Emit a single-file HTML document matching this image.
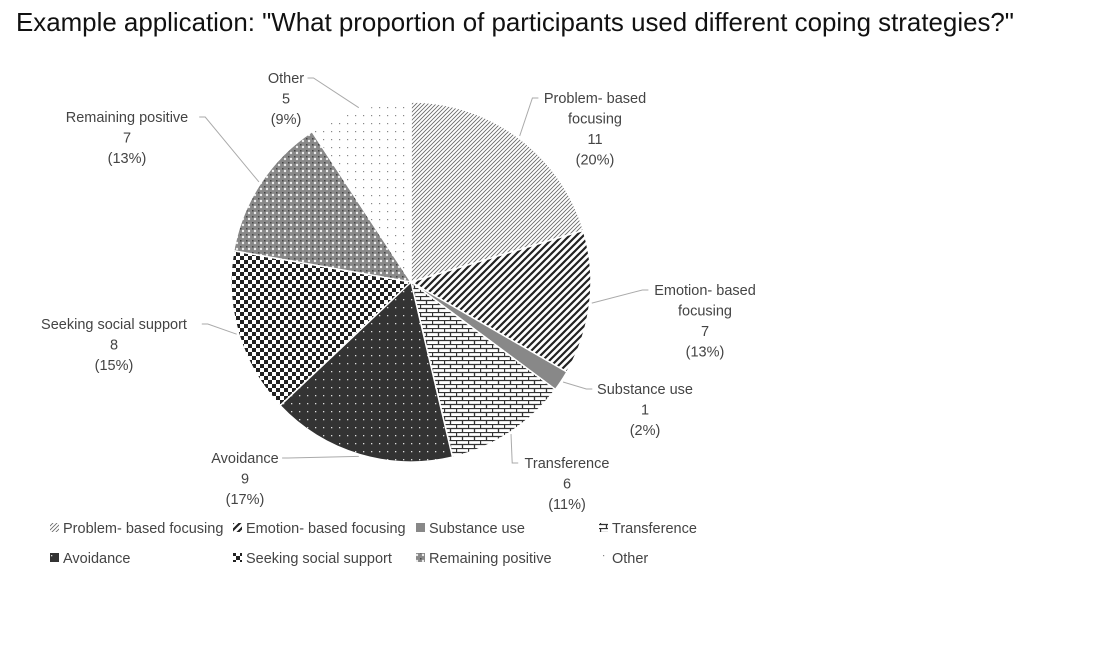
<!DOCTYPE html>
<html><head><meta charset="utf-8"><style>
body{margin:0;background:#fff;width:1116px;height:650px;overflow:hidden;font-family:"Liberation Sans",sans-serif}
#title{position:absolute;left:16px;top:9px;font-size:25.9px;color:#111;white-space:nowrap}
svg{position:absolute;left:0;top:0}
text{font-family:"Liberation Sans",sans-serif;font-size:14.5px;fill:#444}
</style></head><body>
<div id="title">Example application: "What proportion of participants used different coping strategies?"</div>
<svg id="chart" width="1116" height="650">
<defs>
<pattern id="p0" width="4" height="4" patternUnits="userSpaceOnUse"><rect width="4" height="4" fill="#fff"/><path d="M-1,1 L1,-1 M0,4 L4,0 M3,5 L5,3" stroke="#666" stroke-width="0.8"/></pattern>
<pattern id="p1" width="7" height="7" patternUnits="userSpaceOnUse"><rect width="7" height="7" fill="#fff"/><path d="M-1,8 L8,-1 M-1,1 L1,-1 M6,8 L8,6" stroke="#222" stroke-width="2.2"/></pattern>
<pattern id="p2" width="4" height="4" patternUnits="userSpaceOnUse"><rect width="4" height="4" fill="#888"/></pattern>
<pattern id="p3" width="12" height="8" patternUnits="userSpaceOnUse"><rect width="12" height="8" fill="#fff"/><path d="M0,0.5H12 M0,4.5H12 M0.5,0V4 M6.5,4V8" stroke="#333" stroke-width="1.3"/></pattern>
<pattern id="p4" width="8" height="8" patternUnits="userSpaceOnUse"><rect width="8" height="8" fill="#333"/><rect x="3" y="3" width="1.3" height="1.3" fill="#ddd"/></pattern>
<pattern id="p5" width="8" height="8" patternUnits="userSpaceOnUse"><rect width="8" height="8" fill="#fff"/><rect width="4" height="4" fill="#222"/><rect x="4" y="4" width="4" height="4" fill="#222"/></pattern>
<pattern id="p6" width="6" height="6" patternUnits="userSpaceOnUse"><rect width="6" height="6" fill="#888"/><circle cx="3" cy="3" r="1.2" fill="#eee"/><rect width="1.5" height="1.5" fill="#444"/></pattern>
<pattern id="p7" width="8" height="8" patternUnits="userSpaceOnUse"><rect width="8" height="8" fill="#fff"/><rect x="3" y="3" width="1.2" height="1.2" fill="#888"/></pattern>
</defs>
<g id="slices"></g>
<g id="labels"></g>
<g id="legend"></g>
</svg>
<script>
const categories=["Problem- based focusing","Emotion- based focusing","Substance use","Transference","Avoidance","Seeking social support","Remaining positive","Other"];
const values=[11,7,1,6,9,8,7,5];
const percents=["20%","13%","2%","11%","17%","15%","13%","9%"];
const NS="http://www.w3.org/2000/svg";
const cx=411,cy=282,r=180;
const total=values.reduce((a,b)=>a+b,0);
const angleScale=v=>v/total*2*Math.PI;
const pt=(a,rr)=>[cx+rr*Math.sin(a),cy-rr*Math.cos(a)];
const sg=document.getElementById('slices');
let a0=0;const mids=[];
values.forEach((v,i)=>{
  const a1=a0+angleScale(v);
  const [x0,y0]=pt(a0,r),[x1,y1]=pt(a1,r);
  const p=document.createElementNS(NS,'path');
  p.setAttribute('d',`M${cx},${cy}L${x0},${y0}A${r},${r} 0 ${a1-a0>Math.PI?1:0} 1 ${x1},${y1}Z`);
  p.setAttribute('fill',`url(#p${i})`);p.setAttribute('stroke','#fff');p.setAttribute('stroke-width','1.5');
  
  
  sg.appendChild(p);mids.push((a0+a1)/2);a0=a1;
});
const labelPos=[[595,98,"Problem- based|focusing"],[705,290,"Emotion- based|focusing"],[645,389,"Substance use"],[567,463,"Transference"],[245,458,"Avoidance"],[114,324,"Seeking social support"],[127,117,"Remaining positive"],[286,78,"Other"]];
const lg=document.getElementById('labels');
labelPos.forEach((L,i)=>{
  const lines=L[2].split('|');lines.push(String(values[i]));lines.push('('+percents[i]+')');
  const g=document.createElementNS(NS,'g');
  
  
  lines.forEach((t,k)=>{const tx=document.createElementNS(NS,'text');tx.setAttribute('x',L[0]);tx.setAttribute('y',L[1]+5+k*20.5);tx.setAttribute('text-anchor','middle');tx.textContent=t;g.appendChild(tx);});
  const [ex,ey]=pt(mids[i],r+2);
  const w=L[2].split('|')[0].length*3.9;
  const left=ex>cx;
  const sx=left?L[0]-w-2:L[0]+w+2;
  const ln=document.createElementNS(NS,'polyline');
  ln.setAttribute('points',`${ex},${ey} ${left?sx-6:sx+6},${L[1]} ${sx},${L[1]}`);
  ln.setAttribute('fill','none');ln.setAttribute('stroke','#aaa');ln.setAttribute('stroke-width','1');
  g.appendChild(ln);lg.appendChild(g);
});
const legPos=[[63,533],[246,533],[429,533],[612,533],[63,563],[246,563],[429,563],[612,563]];
const leg=document.getElementById('legend');
categories.forEach((c,i)=>{
  const g=document.createElementNS(NS,'g');
  
  
  const sw=document.createElementNS(NS,'rect');
  sw.setAttribute('x',legPos[i][0]-13);sw.setAttribute('y',legPos[i][1]-10);sw.setAttribute('width',9);sw.setAttribute('height',9);sw.setAttribute('fill',`url(#p${i})`);
  g.appendChild(sw);
  const t=document.createElementNS(NS,'text');t.setAttribute('x',legPos[i][0]);t.setAttribute('y',legPos[i][1]);t.setAttribute('font-size','15.5');t.textContent=c;
  g.appendChild(t);leg.appendChild(g);
});
</script>
</body></html>
